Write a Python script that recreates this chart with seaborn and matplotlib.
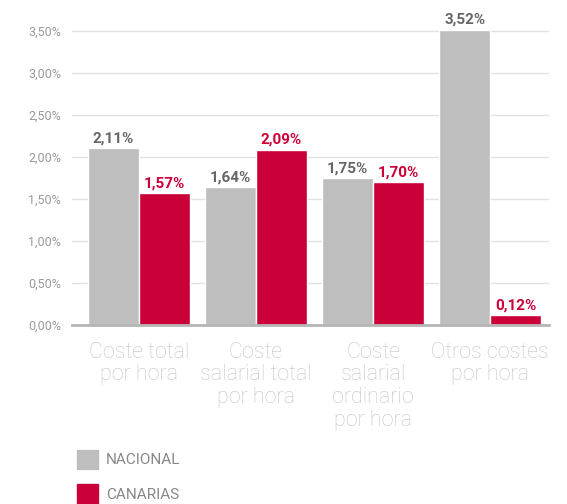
import pandas as pd
import matplotlib.pyplot as plt
import seaborn as sns
from matplotlib.patches import Patch

# Data
categorias = ['Coste total\npor hora', 'Coste\nsalarial total\npor hora',
              'Coste\nsalarial\nordinario\npor hora', 'Otros costes\npor hora']
nacional = [2.11, 1.64, 1.75, 3.52]
canarias = [1.57, 2.09, 1.70, 0.12]
series = ['NACIONAL', 'CANARIAS']

gris = '#bebebe'
rojo = '#cc0038'

df = pd.DataFrame({
    'categoria': categorias * 2,
    'serie': [series[0]] * 4 + [series[1]] * 4,
    'valor': nacional + canarias,
})

sns.set_style('white')
plt.rcParams['font.family'] = ['Roboto', 'DejaVu Sans']

fig = plt.figure(figsize=(5.67, 5.04), dpi=100)
ax = fig.add_axes([0.127, 0.355, 0.841, 0.593])

sns.barplot(data=df, x='categoria', y='valor', hue='serie',
            palette=[gris, rojo], width=0.87, saturation=1,
            legend=False, ax=ax)

ax.set_xlim(-0.57, 3.5)
ax.set_ylim(0, 3.56)
ax.set_yticks([0, 0.5, 1, 1.5, 2, 2.5, 3, 3.5])
ax.set_yticklabels([f'{t:.2f}'.replace('.', ',') + '%' for t in ax.get_yticks()],
                   color='#9a9a9a', fontsize=9)
ax.yaxis.grid(True, color='#e2e2e2', lw=1)
ax.set_axisbelow(True)
for s in ['top', 'right', 'left']:
    ax.spines[s].set_visible(False)
ax.spines['bottom'].set_color('#b5b5b5')
ax.spines['bottom'].set_linewidth(2)
ax.tick_params(axis='y', length=0, pad=8)
ax.tick_params(axis='x', length=0, pad=12)
ax.set_xlabel('')
ax.set_ylabel('')
for lbl in ax.get_xticklabels():
    lbl.set_fontsize(15.5)
    lbl.set_color('#c4c4c4')
    lbl.set_fontweight('light')
    lbl.set_linespacing(1.1)
    lbl.set_verticalalignment('top')

# Value labels
colores_txt = ['#666666', rojo]
valores = [nacional, canarias]
for cont, col, vals in zip(ax.containers, colores_txt, valores):
    ax.bar_label(cont, labels=[f'{v:.2f}'.replace('.', ',') + '%' for v in vals],
                 color=col, fontsize=11, fontweight='bold', padding=2)

# Legend
handles = [Patch(color=gris, label=series[0]), Patch(color=rojo, label=series[1])]
fig.legend(handles=handles, loc='upper left', bbox_to_anchor=(0.136, 0.108),
           frameon=False, fontsize=11, handlelength=1.35, handleheight=1.6,
           labelspacing=0.95, handletextpad=0.55, labelcolor='#888888',
           borderaxespad=0, borderpad=0)

fig.savefig('out.png', dpi=100)
